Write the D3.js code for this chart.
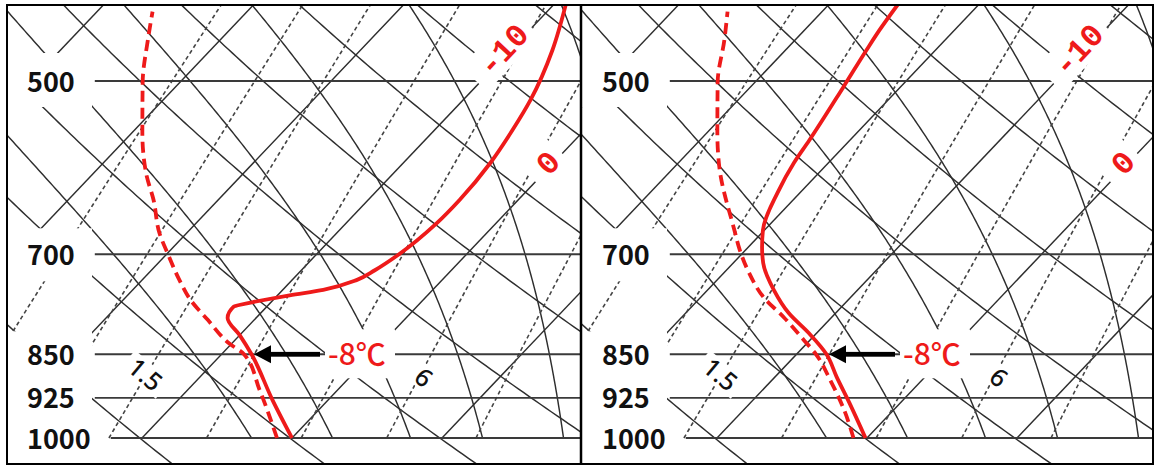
<!DOCTYPE html>
<html>
<head>
<meta charset="utf-8">
<script src="https://cdn.jsdelivr.net/npm/d3@7/dist/d3.min.js"></script>
<style>
  html, body { margin: 0; padding: 0; background: #fff; }
  svg { display: block; }
</style>
</head>
<body>
<svg id="chart" width="1154" height="467"></svg>
<script>
// Isobars drawn and labelled (hPa)
const pressureLevels = [500, 700, 850, 925, 1000];
const pressureLabels = ["500", "700", "850", "925", "1000"];

// Background reference lines of the skew-T log-p diagram
const isotherms = [-40, -30, -20, -10, 0, 10, 20];                 // °C
const dryAdiabats = [253, 263, 273, 283, 293, 303, 313, 323, 333];  // potential temperature, K
const moistAdiabats = [-2.7, 2.7, 7.9, 12.7, 18.1, 23.3];           // temperature at 1000 hPa, °C
const mixingRatios = [0.6, 1, 1.5, 2.5, 4, 6, 9];                   // g/kg

// Reference lines that carry a label
const isothermLabels = [-10, 0];      // °C
const mixingRatioLabels = [1.5, 6];   // g/kg

// Temperature at 850 hPa, pointed at by the arrow
const t850 = -8;

// Left sounding: [pressure hPa, °C]
const tempLeft = [
  [1000, 0.0], [929, -3.7], [850, -8.0], [819, -10.0], [792, -11.9], [775, -12.2],
  [768, -11.2], [758, -9.2], [750, -7.3], [736, -5.7], [722, -5.1], [700, -4.5],
  [659, -3.95], [630, -3.9], [586, -4.2], [550, -4.8], [519, -5.5], [471, -7.2], [431, -9.2]
];
const dewLeft = [
  [1000, -1.0], [911, -5.2], [850, -8.5], [832, -10.2], [795, -13.1], [765, -15.5],
  [736, -17.5], [700, -19.9], [672, -21.8], [630, -24.3], [598, -26.5], [553, -29.3],
  [501, -32.5], [462, -34.8], [437, -36.3]
];

// Right sounding: [pressure hPa, °C]
const tempRight = [
  [1000, -0.1], [934, -3.4], [888, -5.9], [850, -8.0], [816, -10.5], [785, -13.1],
  [750, -15.6], [712, -18.0], [690, -19.1], [668, -20.1], [621, -21.5], [586, -22.3],
  [561, -22.7], [506, -23.8], [471, -24.6], [453, -25.0], [431, -25.4]
];
const dewRight = [
  [1000, -0.9], [947, -3.3], [894, -6.1], [850, -8.7], [827, -10.4], [791, -13.2],
  [761, -15.8], [726, -18.3], [694, -20.4], [668, -22.0], [591, -27.0], [553, -29.3],
  [501, -32.5], [462, -34.7], [437, -36.3]
];

// ---------------------------------------------------------------------------
const svg = d3.select("#chart");
const RED = "#ee1a1a";

// log-p vertical axis and skewed temperature axis
const y = d3.scaleLog().domain([1000, 500]).range([438, 81]);
const xBase = d3.scaleLinear().domain([-10, 0]).range([142, 292]);
const skew = 0.95;
const X = (t, p) => xBase(t) + (y(1000) - y(p)) * skew;

const frame = { left: 7, top: 5, right: 1153, bottom: 464, divider: 581 };
const pTop = y.invert(frame.top - 2);
const pBottom = y.invert(frame.bottom + 2);

// thermodynamics for the reference lines
const Rd = 287.04, cp = 1005.7, Lv = 2.501e6, eps = 0.622, kappa = Rd / cp;
const satVap = t => 6.112 * Math.exp(17.67 * t / (t + 243.5));
const satMix = (t, p) => { const e = satVap(t); return eps * e / (p - e); };
const dewFromMix = (w, p) => {
  const r = w / 1000, e = r * p / (eps + r), l = Math.log(e / 6.112);
  return 243.5 * l / (17.67 - l);
};
const moistRate = (t, p) => {           // dT / dln p along a saturated adiabat
  const T = t + 273.15, r = satMix(t, p);
  return (Rd * T + Lv * r) / (cp + Lv * Lv * r * eps / (Rd * T * T));
};
const pressures = (p0, p1, n = 120) =>
  d3.range(n + 1).map(i => Math.exp(Math.log(p0) + (Math.log(p1) - Math.log(p0)) * i / n));

function moistPath(t0) {
  const pts = [[1000, t0]];
  let t = t0, lp = Math.log(1000);
  const h = -0.005, end = Math.log(pTop);
  while (lp > end) {
    const k1 = moistRate(t, Math.exp(lp));
    const k2 = moistRate(t + h / 2 * k1, Math.exp(lp + h / 2));
    const k3 = moistRate(t + h / 2 * k2, Math.exp(lp + h / 2));
    const k4 = moistRate(t + h * k3, Math.exp(lp + h));
    t += h * (k1 + 2 * k2 + 2 * k3 + k4) / 6;
    lp += h;
    pts.push([Math.exp(lp), t]);
  }
  return pts;
}

const line = d3.line().x(d => X(d[1], d[0])).y(d => y(d[0]));
const smooth = d3.line().x(d => X(d[1], d[0])).y(d => y(d[0])).curve(d3.curveMonotoneY);

const isothermPaths = isotherms.map(t => pressures(1000, pTop, 2).map(p => [p, t]));
const dryPaths = dryAdiabats.map(th => pressures(pBottom, pTop).map(p => [p, th * Math.pow(p / 1000, kappa) - 273.15]));
const moistPaths = moistAdiabats.map(moistPath);
const mixPaths = mixingRatios.map(w => pressures(1000, pTop).map(p => [p, dewFromMix(w, p)]));

const panels = [
  { dx: 0, x0: frame.left, x1: frame.divider, temp: tempLeft, dew: dewLeft },
  { dx: frame.divider - 6, x0: 6, x1: frame.right - (frame.divider - 6), temp: tempRight, dew: dewRight }
];

const defs = svg.append("defs");
const labelFont = "'Noto Sans CJK KR', 'Noto Sans', sans-serif";

panels.forEach((pn, i) => {
  const id = "panelClip" + i;
  defs.append("clipPath").attr("id", id)
    .append("rect").attr("x", pn.x0).attr("y", frame.top)
    .attr("width", pn.x1 - pn.x0).attr("height", frame.bottom - frame.top);

  const g = svg.append("g").attr("transform", `translate(${pn.dx},0)`);
  const body = g.append("g").attr("clip-path", `url(#${id})`);

  // reference grid
  const grid = body.append("g").attr("fill", "none");
  grid.selectAll(".iso").data(isothermPaths).join("path").attr("class", "iso")
    .attr("d", line).attr("stroke", "#2e2e2e").attr("stroke-width", 1.45);
  grid.selectAll(".dry").data(dryPaths).join("path").attr("class", "dry")
    .attr("d", line).attr("stroke", "#2e2e2e").attr("stroke-width", 1.45);
  grid.selectAll(".moist").data(moistPaths).join("path").attr("class", "moist")
    .attr("d", line).attr("stroke", "#2e2e2e").attr("stroke-width", 1.45);
  grid.selectAll(".mix").data(mixPaths).join("path").attr("class", "mix")
    .attr("d", line).attr("stroke", "#444").attr("stroke-width", 1.6)
    .attr("stroke-dasharray", "4,3");

  // white backing behind the pressure labels
  const box = body.append("g").attr("fill", "#fff");
  box.append("rect").attr("x", pn.x0).attr("width", 92 - pn.x0)
    .attr("y", y(500) - 28).attr("height", 54);
  box.append("rect").attr("x", pn.x0).attr("width", 92 - pn.x0)
    .attr("y", y(700) - 26).attr("height", 53);
  box.append("rect").attr("x", pn.x0).attr("width", 92 - pn.x0)
    .attr("y", y(850) - 23).attr("height", frame.bottom - y(850) + 23);

  // isobars and labels
  const labels = body.append("g");
  pressureLevels.forEach((p, k) => {
    const t = labels.append("text").attr("x", 27).attr("y", y(p) + 10.5)
      .attr("font-family", labelFont).attr("font-weight", 700).attr("font-size", 27)
      .attr("fill", "#111").text(pressureLabels[k]);
    const start = 27 + t.node().getComputedTextLength() + 20;
    body.insert("line", "g:last-child")
      .attr("x1", start).attr("x2", pn.x1).attr("y1", y(p)).attr("y2", y(p))
      .attr("stroke", "#3a3a3a").attr("stroke-width", 1.9);
  });

  // isotherm labels
  const isoPos = [y.invert(49), y.invert(162)];
  isothermLabels.forEach((t, k) => {
    const p = isoPos[k];
    const lg = body.append("g")
      .attr("transform", `translate(${X(t, p) - (t === 0 ? 7 : 9)},${y(p)}) rotate(-47)`);
    const w = String(t).length * 19 + 14;
    lg.append("rect").attr("x", -w / 2 - 6).attr("y", -18).attr("width", w + 6).attr("height", 36).attr("fill", "#fff");
    lg.append("text").attr("text-anchor", "middle").attr("dy", "0.36em")
      .attr("font-family", "'Liberation Mono', 'DejaVu Sans Mono', monospace")
      .attr("font-weight", 700).attr("font-size", 32).attr("fill", RED).text(String(t));
  });

  // mixing-ratio labels
  const mixPos = [884, 889];
  mixingRatioLabels.forEach((w, k) => {
    const p = mixPos[k];
    const lg = body.append("g")
      .attr("transform", `translate(${X(dewFromMix(w, p), p) + (k === 0 ? -1 : 5)},${y(p)}) rotate(40)`);
    const bw = String(w).length * 13 + 8;
    lg.append("rect").attr("x", -bw / 2).attr("y", -12).attr("width", bw).attr("height", 24).attr("fill", "#fff");
    lg.append("text").attr("text-anchor", "middle").attr("dy", "0.36em")
      .attr("font-family", "'Noto Sans', sans-serif").attr("font-weight", 500).attr("font-size", 25)
      .attr("fill", "#111").text(String(w));
  });

  // soundings
  body.append("path").datum(pn.dew).attr("d", smooth).attr("fill", "none")
    .attr("stroke", RED).attr("stroke-width", 3.8).attr("stroke-dasharray", "11,6");
  body.append("path").datum(pn.temp).attr("d", smooth).attr("fill", "none")
    .attr("stroke", RED).attr("stroke-width", 3.8);

  // arrow to the 850 hPa temperature and its label
  const ay = y(850);
  const tip = X(t850, 850) + 2.5;
  body.append("rect").attr("x", 325).attr("y", ay - 25).attr("width", 70).attr("height", 49).attr("fill", "#fff");
  body.append("rect").attr("x", tip + 14).attr("y", ay - 2.4).attr("width", 320 - tip - 14).attr("height", 4.8).attr("fill", "#000");
  body.append("path").attr("d", `M${tip},${ay}L${tip + 17},${ay - 9}L${tip + 17},${ay + 9}Z`).attr("fill", "#000");
  body.append("text").attr("x", 328).attr("y", ay + 11)
    .attr("font-family", labelFont).attr("font-weight", 500).attr("font-size", 30)
    .attr("fill", RED).text(`${t850}℃`);
});

// outer frame and divider
svg.append("rect").attr("x", frame.left).attr("y", frame.top)
  .attr("width", frame.right - frame.left).attr("height", frame.bottom - frame.top)
  .attr("fill", "none").attr("stroke", "#000").attr("stroke-width", 2);
svg.append("line").attr("x1", frame.divider).attr("x2", frame.divider)
  .attr("y1", frame.top).attr("y2", frame.bottom).attr("stroke", "#000").attr("stroke-width", 2.5);
</script>
</body>
</html>
